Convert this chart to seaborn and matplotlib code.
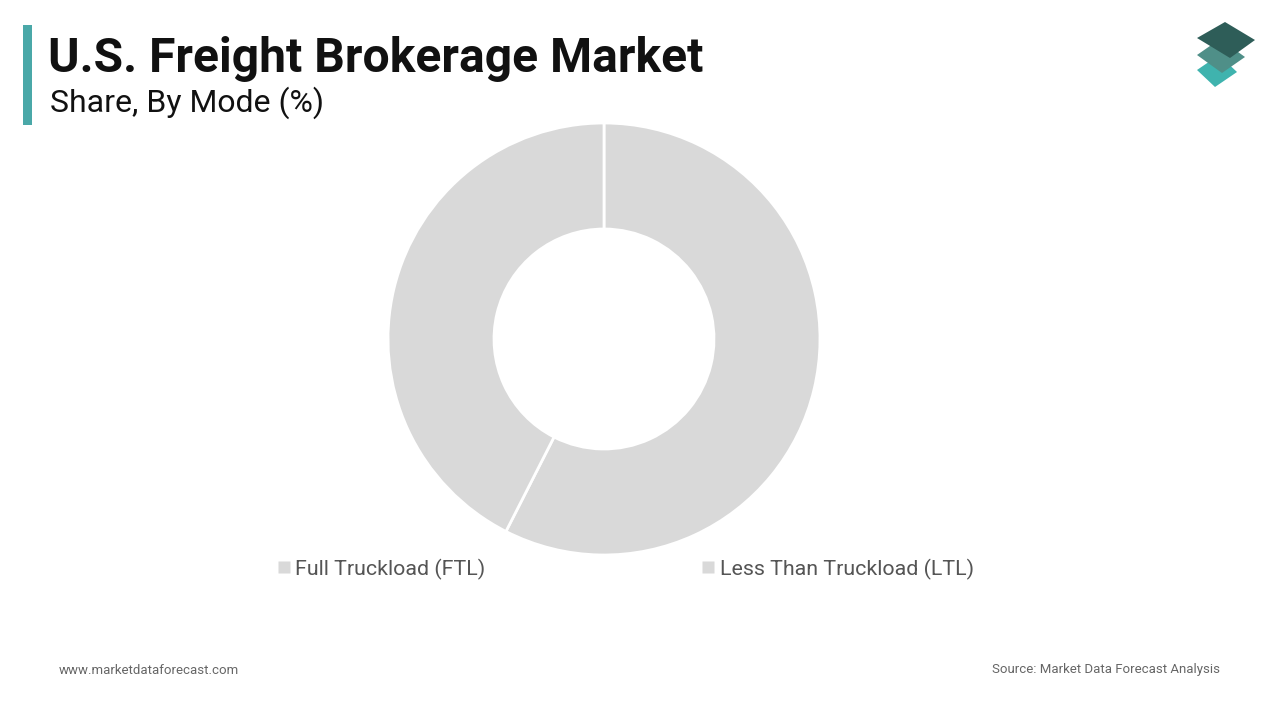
import matplotlib
matplotlib.use("Agg")
import matplotlib.pyplot as plt
import seaborn as sns
from matplotlib.patches import Polygon, Rectangle
from matplotlib.lines import Line2D

# data
modes = ["Full Truckload (FTL)", "Less Than Truckload (LTL)"]
shares = [57.5, 42.5]
slice_colors = ["#d9d9d9", "#d9d9d9"]

TITLE = "U.S. Freight Brokerage Market"
SUBTITLE = "Share, By Mode (%)"
SITE = "www.marketdataforecast.com"
SOURCE = "Source: Market Data Forecast Analysis"

W, H = 1280, 720


def init():
    sns.set_theme(style="white")
    plt.rcParams["font.family"] = ["Roboto", "DejaVu Sans"]


def px(x, y):
    return (x / W, 1 - y / H)


def draw_logo(fig):
    # three stacked tiles, bottom first (left, bottom, right, top corners)
    tiles = [
        ([(1197, 70), (1215, 87), (1237, 72), (1219, 55)], "#3fb3ae"),
        ([(1197, 55), (1222, 73), (1245, 57), (1220, 39)], "#4f8f88"),
        ([(1197, 38), (1230, 58), (1255, 40), (1225, 22)], "#2e5d58"),
    ]
    for pts, col in tiles:
        fig.patches.append(Polygon([px(*p) for p in pts], closed=True,
                                   transform=fig.transFigure, facecolor=col,
                                   edgecolor="none", joinstyle="round"))


def main():
    init()
    fig = plt.figure(figsize=(12.8, 7.2), dpi=100)
    fig.patch.set_facecolor("white")

    # accent bar + titles
    fig.patches.append(Rectangle(px(23, 125), 9 / W, 100 / H, transform=fig.transFigure,
                                 facecolor="#4aa8a8", edgecolor="none"))
    fig.text(*px(48, 72), TITLE, fontsize=34.6, fontweight="bold",
             color="#111111", ha="left", va="baseline")
    fig.text(*px(50, 112), SUBTITLE, fontsize=23, color="#111111",
             ha="left", va="baseline")
    draw_logo(fig)

    # donut
    ax = fig.add_axes([(604 - 216) / W, (H - 339 - 216) / H, 432 / W, 432 / H])
    ax.pie(shares, colors=slice_colors, startangle=90, counterclock=False, radius=1,
           wedgeprops=dict(width=1 - 110 / 216, edgecolor="white", linewidth=2))
    ax.set_xlim(-1, 1)
    ax.set_ylim(-1, 1)
    ax.set_aspect("equal")
    ax.axis("off")

    handles = [Line2D([], [], marker="s", linestyle="none", markersize=8,
                      markerfacecolor=c, markeredgecolor="none") for c in slice_colors]
    fig.legend(handles, modes, loc="center left", bbox_to_anchor=px(258, 569),
               ncol=2, frameon=False, fontsize=15.4, labelcolor="#555555",
               handlelength=0.6, handletextpad=0.25, columnspacing=10.1)

    fig.text(*px(59, 670), SITE, fontsize=9.5, color="#666666",
             ha="left", va="center")
    fig.text(*px(1220, 670), SOURCE, fontsize=9.5, color="#666666",
             ha="right", va="center")

    fig.savefig("out.png", dpi=100, facecolor="white")


if __name__ == "__main__":
    main()
